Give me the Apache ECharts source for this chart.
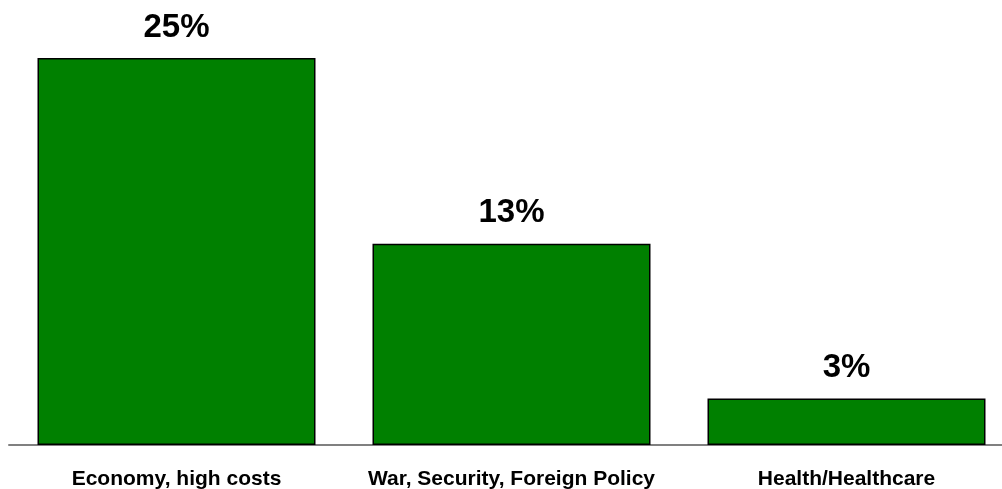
<!DOCTYPE html>
<html>
<head>
<meta charset="utf-8">
<script src="https://cdn.jsdelivr.net/npm/echarts@6/dist/echarts.min.js"></script>
<style>
html, body { margin:0; padding:0; background:#fff; }
#main { width:1002px; height:489px; }
</style>
</head>
<body>
<div id="main"></div>
<script>
// categories and values
var categories = ['Economy, high costs', 'War, Security, Foreign Policy', 'Health/Healthcare'];
var values = [25, 13, 3];

var chart = echarts.init(document.getElementById('main'));
var option = {
    animation: false,
    grid: {
        left: 9,
        width: 1005,
        top: 58,
        bottom: 44,
        containLabel: false,
        outerBoundsMode: 'none'
    },
    xAxis: {
        type: 'category',
        data: categories,
        axisLine: {
            lineStyle: { color: '#808080', width: 2 }
        },
        axisTick: { show: false },
        axisLabel: {
            interval: 0,
            color: '#000',
            fontFamily: 'Liberation Sans, Arial, sans-serif',
            fontWeight: 'bold',
            fontSize: 21,
            margin: 24
        }
    },
    yAxis: {
        type: 'value',
        min: 0,
        max: 25,
        show: false,
        splitLine: { show: false }
    },
    series: [{
        type: 'bar',
        data: values,
        barWidth: 278,
        itemStyle: {
            color: '#008000',
            borderColor: '#000',
            borderWidth: 1.5
        },
        label: {
            show: true,
            position: 'top',
            distance: 14,
            formatter: '{c}%',
            color: '#000',
            fontFamily: 'Liberation Sans, Arial, sans-serif',
            fontWeight: 'bold',
            fontSize: 33
        }
    }]
};
chart.setOption(option);
</script>
</body>
</html>
